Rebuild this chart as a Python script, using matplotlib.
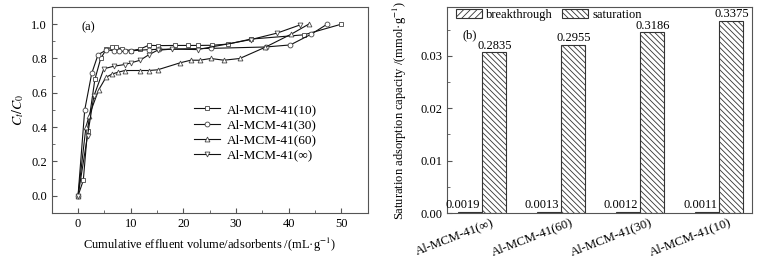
import matplotlib
matplotlib.use("Agg")
import matplotlib.pyplot as plt
import numpy as np

plt.rcParams['font.family'] = ['Liberation Serif', 'DejaVu Serif']
plt.rcParams['mathtext.fontset'] = 'stix'
plt.rcParams['font.size'] = 9
plt.rcParams['hatch.linewidth'] = 0.6

# ---- panel (a) data ----
x10 = [0, 1.0, 1.8, 3.2, 4.3, 5.4, 6.4, 7.2, 8.4, 10.1, 11.8, 13.4, 15.1, 18.5, 20.9, 22.7, 25.4, 28.5, 32.8, 42.9, 50.0]
y10 = [0, 0.09, 0.38, 0.678, 0.80, 0.855, 0.865, 0.865, 0.855, 0.846, 0.855, 0.877, 0.875, 0.876, 0.876, 0.876, 0.877, 0.884, 0.913, 0.938, 1.0]
x30 = [0, 1.27, 2.6, 3.8, 5.4, 6.8, 7.8, 8.9, 10.1, 13.5, 15.3, 25.2, 35.6, 40.3, 44.3, 47.3]
y30 = [0, 0.50, 0.713, 0.822, 0.85, 0.846, 0.842, 0.842, 0.845, 0.852, 0.853, 0.859, 0.867, 0.879, 0.942, 1.0]
x60 = [0, 1.5, 2.1, 3.9, 5.3, 6.5, 7.6, 8.9, 11.8, 13.4, 15.1, 19.4, 21.4, 23.1, 25.2, 27.7, 30.7, 35.5, 40.5, 43.8]
y60 = [0, 0.40, 0.466, 0.616, 0.69, 0.71, 0.72, 0.73, 0.73, 0.73, 0.734, 0.775, 0.79, 0.79, 0.80, 0.79, 0.80, 0.865, 0.942, 1.0]
xinf = [0, 1.8, 3.0, 4.9, 6.8, 8.9, 10.1, 11.8, 13.5, 15.1, 17.9, 22.7, 32.8, 37.8, 42.1]
yinf = [0, 0.35, 0.58, 0.74, 0.755, 0.765, 0.775, 0.79, 0.823, 0.848, 0.855, 0.852, 0.91, 0.948, 0.995]
series_labels = ['Al-MCM-41(10)', 'Al-MCM-41(30)', 'Al-MCM-41(60)', 'Al-MCM-41(∞)']
series_markers = ['s', 'o', '^', 'v']

# ---- panel (b) data ----
categories = ['Al-MCM-41(∞)', 'Al-MCM-41(60)', 'Al-MCM-41(30)', 'Al-MCM-41(10)']
breakthrough = [0.0002, 0.00014, 0.00013, 0.00012]
saturation = [0.03065, 0.03205, 0.03448, 0.03665]
breakthrough_labels = ['0.0019', '0.0013', '0.0012', '0.0011']
saturation_labels = ['0.2835', '0.2955', '0.3186', '0.3375']

fig = plt.figure(figsize=(7.68, 2.59), dpi=100)
ax1 = fig.add_axes([0.0673, 0.1776, 0.4115, 0.7954])
ax2 = fig.add_axes([0.582, 0.1776, 0.3967, 0.7954])

edge = '#555555'
for ax in (ax1, ax2):
    for s in ax.spines.values():
        s.set_color(edge)
        s.set_linewidth(0.8)

xs = [x10, x30, x60, xinf]
ys = [y10, y30, y60, yinf]
for xd, yd, m, lab in zip(xs, ys, series_markers, series_labels):
    ax1.plot(xd, yd, color='#111111', lw=0.8, marker=m, ms=3.5, mfc='white',
             mec='#444444', mew=0.6, label=lab)
ax1.set_xlim(-5, 55)
ax1.set_ylim(-0.1, 1.1)
ax1.set_xticks([0, 10, 20, 30, 40, 50])
ax1.set_xticks([5, 15, 25, 35, 45], minor=True)
ax1.set_yticks([0.0, 0.2, 0.4, 0.6, 0.8, 1.0])
ax1.set_yticks([0.1, 0.3, 0.5, 0.7, 0.9], minor=True)
ax1.set_yticklabels(['0.0', '0.2', '0.4', '0.6', '0.8', '1.0'])
ax1.tick_params(direction='in', which='both', top=False, right=False, color=edge)
ax1.tick_params(which='major', length=3.5)
ax1.tick_params(which='minor', length=2)
ax1.set_xlabel('Cumulative effluent volume/adsorbents /(mL·g$^{-1}$)', labelpad=4)
ax1.set_ylabel('$C_t/C_0$', labelpad=4, fontsize=10)
ax1.text(0.093, 0.90, '(a)', transform=ax1.transAxes, ha='left', va='center')
leg = ax1.legend(loc='upper left', bbox_to_anchor=(0.42, 0.575), frameon=False,
                 handlelength=2.0, labelspacing=0.22, handletextpad=0.55, borderpad=0.2,
                 fontsize=9.5)

# panel b
xpos = np.arange(len(categories))
w = 0.3
b1 = ax2.bar(xpos - w / 2, breakthrough, w, color='white', edgecolor='#333333',
             hatch='/////', lw=0.8, label='breakthrough')
b2 = ax2.bar(xpos + w / 2, saturation, w, color='white', edgecolor='#333333',
             hatch='\\\\\\\\\\\\', lw=0.8, label='saturation')
for xi, h, t in zip(xpos - w / 2, breakthrough, breakthrough_labels):
    ax2.annotate(t, (xi, h), xytext=(-5, 1), textcoords='offset points', ha='center', va='bottom')
for xi, h, t in zip(xpos + w / 2, saturation, saturation_labels):
    ax2.annotate(t, (xi, h), xytext=(1, 0.5), textcoords='offset points', ha='center', va='bottom')
ax2.set_xlim(-0.443, 3.414)
ax2.set_ylim(0, 0.0393)
ax2.set_yticks([0.00, 0.01, 0.02, 0.03])
ax2.set_yticks([0.005, 0.015, 0.025, 0.035], minor=True)
ax2.set_yticklabels(['0.00', '0.01', '0.02', '0.03'])
ax2.set_xticks(xpos + 0.12)
ax2.set_xticklabels(categories, rotation=21, ha='right', rotation_mode='anchor', fontsize=9.2)
ax2.tick_params(axis='x', length=0, pad=2.5)
ax2.tick_params(axis='y', direction='in', which='both', right=False, color=edge)
ax2.tick_params(axis='y', which='major', length=3.5)
ax2.tick_params(axis='y', which='minor', length=2)
ax2.set_ylabel('Saturation adsorption capacity /(mmol·g$^{-1}$)', labelpad=8)
ax2.text(0.05, 0.864, '(b)', transform=ax2.transAxes, ha='left', va='center')
ax2.legend(loc='upper left', bbox_to_anchor=(0.0, 1.035), ncol=2, frameon=False,
           handlelength=2.1, handleheight=0.8, columnspacing=0.7, handletextpad=0.35,
           borderpad=0.2)

fig.savefig('out.png', dpi=100)
